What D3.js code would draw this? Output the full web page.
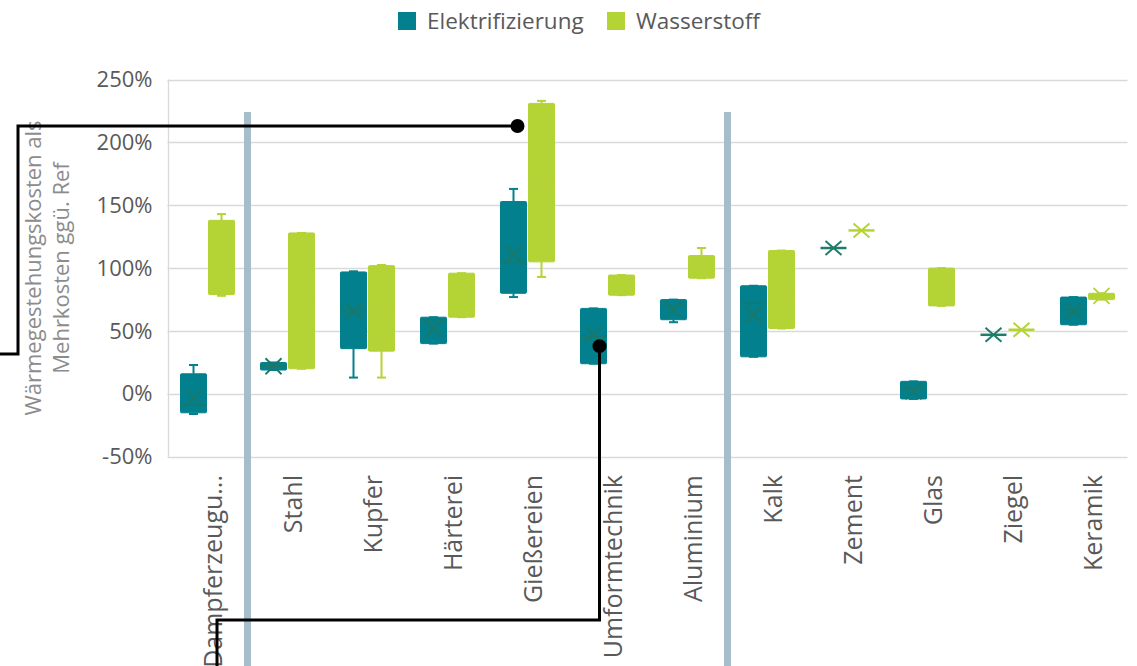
<!DOCTYPE html>
<html>
<head>
<meta charset="utf-8">
<script src="https://cdn.jsdelivr.net/npm/d3@7/dist/d3.min.js"></script>
<style>
  html, body { margin: 0; padding: 0; background: #fff; }
  svg { display: block; font-family: "Segoe UI", "Open Sans", "Noto Sans", sans-serif; }
</style>
</head>
<body>
<svg id="chart" width="1137" height="666"></svg>
<script>
// Branches (x categories)
const categories = ["Dampferzeugu...", "Stahl", "Kupfer", "Härterei", "Gießereien", "Umformtechnik",
  "Aluminium", "Kalk", "Zement", "Glas", "Ziegel", "Keramik"];

// Box statistics per branch, in percent: [min, q1, median, q3, max, mean]
const elektrifizierung = [
  [-16, -15, -9, 16, 23, -3],
  [19, 19, 22, 25, 25, 22],
  [13, 36, 66, 97, 97.5, 66],
  [40, 40, 59, 61, 61, 52],
  [77, 80, 104, 153, 163, 111],
  [24, 24, 46, 68, 68, 47],
  [57, 59, 70, 75, 75, 67],
  [29.5, 29.5, 72, 86, 86, 63],
  [116, 116, 116, 116, 116, 116],
  [-4, -4, 4, 10, 10, 2],
  [47, 47, 47, 47, 47, 47],
  [55, 55, 67, 77, 77, 66]
];
const wasserstoff = [
  [78, 79, 100, 138, 143, 105],
  [20, 20, 74, 128, 128, 74],
  [13, 34, 68, 102, 102.5, 68],
  [61, 61, 78, 96, 96, 78],
  [93, 105, 168, 231, 233, 168],
  [78.5, 78.5, 86, 94.5, 94.5, 86],
  [92, 92, 101, 110, 116, 101],
  [52, 52, 83, 114, 114, 83],
  [130, 130, 130, 130, 130, 130],
  [70, 70, 85, 100, 100, 85],
  [51, 51, 51, 51, 51, 51],
  [75, 75, 78, 80, 80, 78]
];

const yTicks = [-50, 0, 50, 100, 150, 200, 250];
const seriesNames = ["Elektrifizierung", "Wasserstoff"];
// group separators are drawn after these categories
const separatorsAfter = ["Dampferzeugu...", "Aluminium"];
// callout anchors: category, value, horizontal offset from category centre
const callouts = [
  { cat: "Gießereien", value: 213, dx: -10 },
  { cat: "Umformtechnik", value: 38, dx: -8 }
];

const colors = {
  Elektrifizierung: { box: "#03808d", mark: "#1c7866" },
  Wasserstoff: { box: "#b4d335", mark: "#b4d335" }
};
const starColors = { Elektrifizierung: "#1f7d69", Wasserstoff: "#b4d335" };

const svg = d3.select("#chart");
const plot = { left: 167.5, right: 1127.5, top: 79.5, bottom: 456.8 };

const x = d3.scaleBand().domain(categories).range([plot.left, plot.right]).padding(0);
const y = d3.scaleLinear().domain([-50, 250]).range([plot.bottom, plot.top]);

// gridlines
svg.append("g").selectAll("line").data(yTicks).join("line")
  .attr("x1", plot.left).attr("x2", plot.right)
  .attr("y1", d => Math.round(y(d)) + 0.5).attr("y2", d => Math.round(y(d)) + 0.5)
  .attr("stroke", "#d9d9d9").attr("stroke-width", 1.3);
svg.append("line")
  .attr("x1", plot.left + 1).attr("x2", plot.left + 1)
  .attr("y1", y(250)).attr("y2", y(-50))
  .attr("stroke", "#d9d9d9").attr("stroke-width", 1.3);

// y axis labels
const yAxis = d3.axisLeft(y).tickValues(yTicks).tickFormat(d => d + "%").tickSize(0).tickPadding(0);
const yg = svg.append("g").attr("transform", `translate(${plot.left - 15},0)`).call(yAxis);
yg.select(".domain").remove();
yg.selectAll("text").attr("fill", "#595959").style("font-size", "22px")
  .style("font-family", "'Segoe UI', 'Open Sans', sans-serif");

// separators
svg.append("g").selectAll("line").data(separatorsAfter).join("line")
  .attr("x1", d => x(d) + x.bandwidth()).attr("x2", d => x(d) + x.bandwidth())
  .attr("y1", 112).attr("y2", 666)
  .attr("stroke", "#a6bdca").attr("stroke-width", 7);

// category labels
svg.append("g").selectAll("text").data(categories).join("text")
  .attr("transform", d => `translate(${x(d) + x.bandwidth() / 2 + 14.5},475) rotate(-90)`)
  .attr("text-anchor", "end")
  .attr("fill", "#595959").style("font-size", "25px")
  .text(d => d);

// boxes
const boxW = 26;
function drawSeries(data, name, offset) {
  const c = colors[name];
  const g = svg.append("g");
  data.forEach((s, i) => {
    const [mn, q1, med, q3, mx, mean] = s;
    const x0 = x(categories[i]) + x.bandwidth() / 2 + offset;
    const cx = x0 + boxW / 2;
    const flat = (q3 - q1) === 0;
    if (flat) {
      const col = starColors[name];
      const yy = y(med);
      g.append("line").attr("x1", x0).attr("x2", x0 + boxW).attr("y1", yy).attr("y2", yy)
        .attr("stroke", col).attr("stroke-width", 2.5);
      g.append("path").attr("d", `M${cx - 8},${yy - 7}L${cx + 8},${yy + 7}M${cx - 8},${yy + 7}L${cx + 8},${yy - 7}`)
        .attr("stroke", col).attr("stroke-width", 2).attr("fill", "none");
      return;
    }
    // whiskers
    if (mx > q3) {
      g.append("line").attr("x1", cx).attr("x2", cx).attr("y1", y(mx)).attr("y2", y(q3))
        .attr("stroke", c.box).attr("stroke-width", 2);
    }
    if (mn < q1) {
      g.append("line").attr("x1", cx).attr("x2", cx).attr("y1", y(q1)).attr("y2", y(mn))
        .attr("stroke", c.box).attr("stroke-width", 2);
    }
    [mn, mx].forEach(v => {
      g.append("line").attr("x1", cx - 4.5).attr("x2", cx + 4.5).attr("y1", y(v)).attr("y2", y(v))
        .attr("stroke", c.box).attr("stroke-width", 2);
    });
    // box
    g.append("rect").attr("x", x0).attr("y", y(q3)).attr("width", boxW).attr("height", y(q1) - y(q3))
      .attr("fill", c.box).attr("stroke", c.box).attr("stroke-width", 1).attr("rx", 1);
    // median
    g.append("line").attr("x1", x0).attr("x2", x0 + boxW).attr("y1", y(med)).attr("y2", y(med))
      .attr("stroke", c.mark).attr("stroke-width", 1.5);
    // mean marker
    const ym = y(mean);
    g.append("path").attr("d", `M${cx - 8},${ym - 8}L${cx + 8},${ym + 8}M${cx - 8},${ym + 8}L${cx + 8},${ym - 8}`)
      .attr("stroke", c.mark).attr("stroke-width", 1.8).attr("fill", "none");
  });
}
drawSeries(elektrifizierung, "Elektrifizierung", -27);
drawSeries(wasserstoff, "Wasserstoff", 1);

// y axis title
const title = svg.append("text")
  .attr("transform", "translate(0,268) rotate(-90)")
  .attr("text-anchor", "middle").attr("fill", "#8c8c8c").style("font-size", "22px");
title.append("tspan").attr("x", 0).attr("y", 41).text("Wärmegestehungskosten als");
title.append("tspan").attr("x", 0).attr("y", 69).text("Mehrkosten ggü. Ref");

// legend
const legend = svg.append("g");
const legendX = [398, 607];
seriesNames.forEach((n, i) => {
  legend.append("rect").attr("x", legendX[i]).attr("y", 12).attr("width", 18).attr("height", 18)
    .attr("fill", colors[n].box);
  legend.append("text").attr("x", legendX[i] + 29).attr("y", 29)
    .attr("fill", "#595959").style("font-size", "22.5px").text(n);
});

// callout connectors
const c1 = callouts[0], c2 = callouts[1];
const p1x = x(c1.cat) + x.bandwidth() / 2 + c1.dx, p1y = y(c1.value);
const p2x = x(c2.cat) + x.bandwidth() / 2 + c2.dx, p2y = y(c2.value);
const ann = svg.append("g");
ann.append("path").attr("d", `M0,354H18V${p1y}H${p1x}`)
  .attr("fill", "none").attr("stroke", "#000").attr("stroke-width", 3);
ann.append("path").attr("d", `M${p2x},${p2y}V620H217V666`)
  .attr("fill", "none").attr("stroke", "#000").attr("stroke-width", 3);
ann.append("circle").attr("cx", p1x).attr("cy", p1y).attr("r", 7).attr("fill", "#000");
ann.append("circle").attr("cx", p2x).attr("cy", p2y).attr("r", 7).attr("fill", "#000");
</script>
</body>
</html>
